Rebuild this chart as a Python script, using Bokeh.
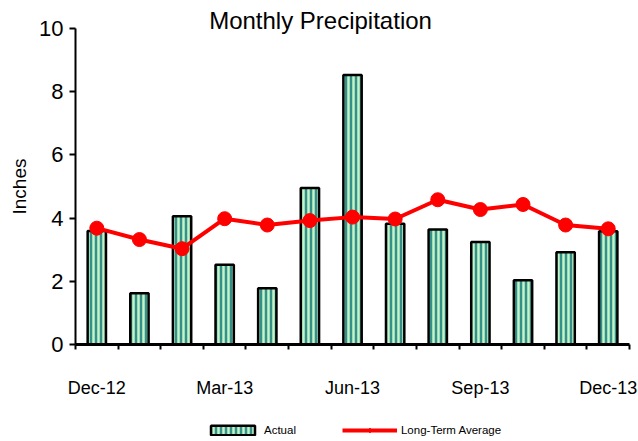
from bokeh.plotting import figure
from bokeh.models import Range1d, FixedTicker, Label, Legend, LegendItem, ColumnDataSource
from bokeh.embed import file_html
from bokeh.resources import INLINE

months = ["Dec-12", "Jan-13", "Feb-13", "Mar-13", "Apr-13", "May-13", "Jun-13",
          "Jul-13", "Aug-13", "Sep-13", "Oct-13", "Nov-13", "Dec-13"]
actual = [3.59, 1.62, 4.06, 2.52, 1.78, 4.95, 8.53, 3.82, 3.64, 3.24, 2.03, 2.92, 3.58]
average = [3.68, 3.32, 3.03, 3.98, 3.78, 3.92, 4.03, 3.97, 4.58, 4.27, 4.43, 3.78, 3.66]
y_ticks = [0, 2, 4, 6, 8, 10]
label_step = 3

FONT = "Liberation Sans"

xs = list(range(len(months)))
src = ColumnDataSource(dict(x=xs, actual=actual, average=average))

x_lo, x_hi = -0.5, len(months) - 0.5
y_max = y_ticks[-1]
p = figure(width=638, height=440, output_backend="svg", toolbar_location=None,
           x_range=Range1d(x_lo - 1.76, x_hi + 0.21),
           y_range=Range1d(-3.04, 10.886),
           min_border_left=0, min_border_right=0, min_border_top=0, min_border_bottom=0)
p.grid.visible = False
p.outline_line_color = None
p.background_fill_color = "white"

bars = p.vbar(x="x", top="actual", width=0.43, source=src,
              fill_color="#33918a", line_color="black", line_width=2.5,
              hatch_pattern="vertical_line", hatch_color="#c4f4c8",
              hatch_scale=5, hatch_weight=2.5)
line = p.line(x="x", y="average", source=src, line_color="#ff0000", line_width=4)
# small diamonds (used by the legend) sit underneath the round markers
legend_marker = p.scatter(x="x", y="average", source=src, marker="diamond", size=10,
                          fill_color="#ff0000", line_color="#ff0000")
dots = p.scatter(x="x", y="average", source=src, size=14, marker="circle",
                 fill_color="#ff0000", line_color="#ff0000")

# y axis, drawn at the left edge of the category span
ya = p.yaxis[0]
ya.fixed_location = x_lo
ya.ticker = FixedTicker(ticks=y_ticks)
ya.bounds = (0, y_max)
ya.axis_line_width = 2
ya.major_tick_line_width = 2
ya.major_tick_out = 6
ya.major_tick_in = 0
ya.minor_tick_line_color = None
ya.major_label_text_font = FONT
ya.major_label_text_font_size = "22px"
ya.major_label_text_color = "black"
ya.major_label_standoff = 6
ya.axis_label = "Inches"
ya.axis_label_text_font = FONT
ya.axis_label_text_font_size = "19px"
ya.axis_label_text_font_style = "normal"
ya.axis_label_text_color = "black"
ya.axis_label_standoff = 6

# x axis, drawn at y = 0
xa = p.xaxis[0]
xa.fixed_location = 0
xa.bounds = (x_lo, x_hi)
label_pos = xs[::label_step]
xa.ticker = FixedTicker(ticks=label_pos, minor_ticks=[i - 0.5 for i in xs] + [x_hi])
xa.major_label_overrides = {i: months[i] for i in label_pos}
xa.axis_line_width = 3
xa.major_tick_out = 0
xa.major_tick_in = 0
xa.minor_tick_out = 5
xa.minor_tick_in = 0
xa.minor_tick_line_width = 2
xa.major_label_text_font = FONT
xa.major_label_text_font_size = "18px"
xa.major_label_text_color = "black"
xa.major_label_standoff = 29

title = Label(x=(x_lo + x_hi) / 2, y=y_max, x_offset=-32, y_offset=8,
              text="Monthly Precipitation", text_align="center", text_baseline="middle",
              text_font=FONT, text_font_size="24px", text_color="black")
p.add_layout(title)

legend = Legend(items=[LegendItem(label="Actual", renderers=[bars]),
                       LegendItem(label="Long-Term Average", renderers=[line, legend_marker])],
                orientation="horizontal", location=(201, 0), click_policy="none",
                glyph_width=55, glyph_height=12, label_standoff=4, spacing=46,
                label_text_font=FONT, label_text_font_size="11.5px", label_text_color="black",
                border_line_alpha=0, background_fill_alpha=0,
                padding=4, margin=0)
p.add_layout(legend)

open("out.html", "w").write(file_html(p, INLINE))
